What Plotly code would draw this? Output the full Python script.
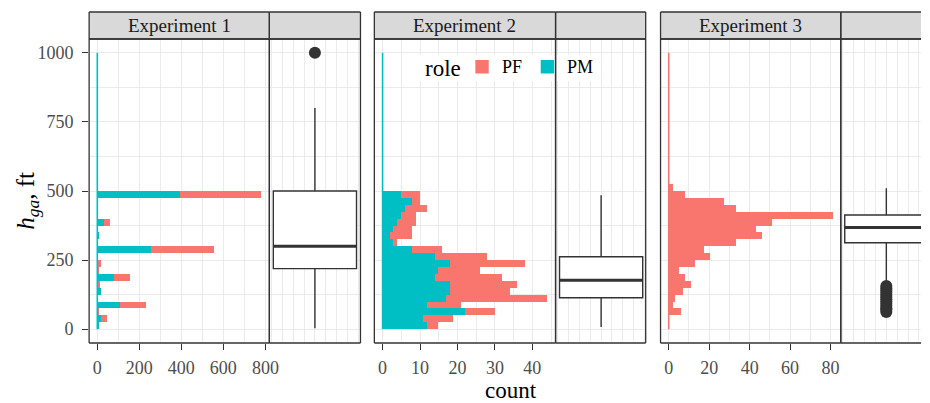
import plotly.graph_objects as go

W, H = 930, 403
def px(x): return x / W
def py(y): return 1 - y / H

PF_COLOR = "#F8766D"
PM_COLOR = "#00BFC4"
DARK = "#333333"
GRID = "#EBEBEB"
FONT = "'Liberation Serif', 'Times New Roman', 'DejaVu Serif', serif"

experiments = ["Experiment 1", "Experiment 2", "Experiment 3"]
roles = ["PF", "PM"]

# histogram bins (ft), width 25
bin_width = 25
bin_centers = [12.5, 37.5, 62.5, 87.5, 112.5, 137.5, 162.5, 187.5, 212.5, 237.5,
               262.5, 287.5, 312.5, 337.5, 362.5, 387.5, 412.5, 437.5, 462.5, 487.5, 512.5]

# counts per bin (bottom -> top)
exp1_pm = [8, 16, 2, 107, 0, 16, 5, 78, 1, 5, 0, 257, 0, 8, 0, 31, 0, 0, 0, 394, 0]
exp1_pf = [0, 29, 8, 127, 0, 0, 7, 76, 5, 12, 0, 301, 0, 0, 0, 29, 0, 0, 0, 386, 0]
exp2_pm = [12, 11, 22, 12, 17, 18, 18, 14, 15, 18, 14, 8, 3, 2, 3, 4, 5, 6, 8, 5, 0]
exp2_pf = [3, 8, 8, 9, 27, 16, 18, 18, 11, 20, 14, 8, 1, 6, 5, 5, 4, 6, 2, 5, 0]
exp3_pm = [0, 0, 0, 0, 0, 0, 0, 0, 0, 0, 0, 0, 0, 0, 0, 0, 0, 0, 0, 0, 0]
exp3_pf = [0, 0, 6, 2, 3, 7, 11, 8, 5, 13, 20, 17, 33, 46, 43, 51, 81, 33, 27, 8, 2]

hist_pm = [exp1_pm, exp2_pm, exp3_pm]
hist_pf = [exp1_pf, exp2_pf, exp3_pf]

# data range of h_ga (ft)
h_min, h_max = 0, 1000

# boxplot statistics
box_q1 = [219, 114, 313]
box_median = [300, 177, 368]
box_q3 = [500, 262, 413]
box_lower = [3, 8, 165]
box_upper = [800, 485, 510]
exp1_outliers = [1000]
exp2_outliers = []
exp3_outliers = [156, 148, 140, 132, 124, 116, 108, 100, 92, 84, 76, 70, 62]
outliers = [exp1_outliers, exp2_outliers, exp3_outliers]

# x tick labels
hist_ticks = [[0, 200, 400, 600, 800], [0, 10, 20, 30, 40], [0, 20, 40, 60, 80]]
hist_minor = [100, 5, 10]

# ---- layout geometry (pixels) ----
panel_top, panel_bot = 39, 343
strip_top = 12
hist_px = [(90, 272), (378, 561), (667, 849)]
box_px = [(272, 364), (561, 652), (849, 941)]
box_half = 4.2
box_unit_px = 92 / (2 * box_half)
box_w = 84 / box_unit_px

fig = go.Figure()
layout = {}
shapes = []
border_shapes = []
annotations = []

ydom = [py(panel_bot), py(panel_top)]
yrange = [-50, 1050]


def frame(l, r, t, b, lw=1.3):
    """Border lines of a box, clipped at the figure's right edge."""
    rr = min(r, W)
    out = [
        dict(type="line", xref="paper", yref="paper", x0=px(l), x1=px(rr), y0=py(t), y1=py(t)),
        dict(type="line", xref="paper", yref="paper", x0=px(l), x1=px(rr), y0=py(b), y1=py(b)),
        dict(type="line", xref="paper", yref="paper", x0=px(l), x1=px(l), y0=py(t), y1=py(b)),
    ]
    if r <= W:
        out.append(dict(type="line", xref="paper", yref="paper", x0=px(r), x1=px(r),
                        y0=py(t), y1=py(b)))
    for s in out:
        s["line"] = dict(color=DARK, width=lw)
        s["layer"] = "above"
    return out


for i in range(3):
    hx = 2 * i + 1
    bx = 2 * i + 2
    hname = "x" if hx == 1 else f"x{hx}"
    bname = f"x{bx}"
    hy = "y" if hx == 1 else f"y{hx}"
    by = f"y{bx}"

    hl, hr = hist_px[i]
    bl, br = box_px[i]
    bdom_r = min(br, W)
    brange = [-box_half, -box_half + (bdom_r - bl) / box_unit_px]

    # zero-count edge line
    zero_color = PM_COLOR if max(hist_pm[i]) > 0 else PF_COLOR
    fig.add_trace(go.Scatter(x=[0, 0], y=[h_min, h_max], mode="lines",
                             line=dict(color=zero_color, width=1.6),
                             xaxis=hname, yaxis=hy, showlegend=False, hoverinfo="skip"))
    fig.add_trace(go.Bar(y=bin_centers, x=hist_pm[i], orientation="h", width=bin_width,
                         marker=dict(color=PM_COLOR, line=dict(width=0)), name="PM",
                         xaxis=hname, yaxis=hy, showlegend=False))
    fig.add_trace(go.Bar(y=bin_centers, x=hist_pf[i], orientation="h", width=bin_width,
                         marker=dict(color=PF_COLOR, line=dict(width=0)), name="PF",
                         xaxis=hname, yaxis=hy, showlegend=False))

    xl = -box_w / 2
    xr = min(box_w / 2, brange[1])
    if xr >= box_w / 2:
        fig.add_trace(go.Box(x=[0], q1=[box_q1[i]], median=[box_median[i]], q3=[box_q3[i]],
                             lowerfence=[box_lower[i]], upperfence=[box_upper[i]],
                             width=box_w, fillcolor="white", whiskerwidth=0,
                             line=dict(color=DARK, width=1.4), boxpoints=False,
                             xaxis=bname, yaxis=by, showlegend=False))
    else:
        # box cut by the right edge of the picture: draw its visible part
        fig.add_trace(go.Scatter(x=[0, 0, None, 0, 0],
                                 y=[box_q3[i], box_upper[i], None, box_q1[i], box_lower[i]],
                                 mode="lines", line=dict(color=DARK, width=1.4),
                                 xaxis=bname, yaxis=by, showlegend=False, hoverinfo="skip"))
        fig.add_trace(go.Scatter(x=[xr, xl, xl, xr],
                                 y=[box_q3[i], box_q3[i], box_q1[i], box_q1[i]],
                                 mode="lines", fill="toself", fillcolor="white",
                                 line=dict(color=DARK, width=1.4),
                                 xaxis=bname, yaxis=by, showlegend=False, hoverinfo="skip"))
    fig.add_trace(go.Scatter(x=[xl, xr], y=[box_median[i], box_median[i]],
                             mode="lines", line=dict(color=DARK, width=2.8),
                             xaxis=bname, yaxis=by, showlegend=False, hoverinfo="skip"))
    if outliers[i]:
        fig.add_trace(go.Scatter(x=[0] * len(outliers[i]), y=outliers[i], mode="markers",
                                 marker=dict(color=DARK, size=12, line=dict(width=0)),
                                 xaxis=bname, yaxis=by, showlegend=False))

    tot_max = max(a + b for a, b in zip(hist_pm[i], hist_pf[i]))
    layout["xaxis" if hx == 1 else f"xaxis{hx}"] = dict(
        domain=[px(hl), px(hr)], anchor=hy, range=[-0.05 * tot_max, 1.05 * tot_max],
        tickvals=hist_ticks[i], ticks="outside", ticklen=6, tickwidth=1.2, tickcolor=DARK,
        tickfont=dict(family=FONT, size=18, color="#4D4D4D"),
        showgrid=True, gridcolor=GRID, gridwidth=1.1, zeroline=False, showline=False,
        minor=dict(dtick=hist_minor[i], showgrid=True, gridcolor=GRID, gridwidth=0.6),
        ticklabelstandoff=2,
    )
    layout[f"xaxis{bx}"] = dict(
        domain=[px(bl), px(bdom_r)], anchor=by, range=brange,
        dtick=1, tick0=0, showticklabels=False, ticks="",
        showgrid=True, gridcolor=GRID, gridwidth=0.9, zeroline=False, showline=False,
    )
    for yname, xa in ((hy, hname), (by, bname)):
        key = "yaxis" if yname == "y" else f"yaxis{yname[1:]}"
        d = dict(domain=ydom, anchor=xa, range=yrange,
                 tickvals=[0, 250, 500, 750, 1000],
                 showgrid=True, gridcolor=GRID, gridwidth=1.1, zeroline=False, showline=False,
                 minor=dict(dtick=125, tick0=0, showgrid=True, gridcolor=GRID, gridwidth=0.6))
        if yname == "y":
            d.update(ticks="outside", ticklen=6, tickwidth=1.2, tickcolor=DARK,
                     tickfont=dict(family=FONT, size=18, color="#4D4D4D"),
                     ticklabelstandoff=5)
        else:
            d.update(showticklabels=False, ticks="", matches="y")
        layout[key] = d

    # strips (fill) and frames
    for (l, r) in (hist_px[i], box_px[i]):
        shapes.append(dict(type="rect", xref="paper", yref="paper",
                           x0=px(l), x1=px(min(r, W)), y0=py(panel_top), y1=py(strip_top),
                           fillcolor="#D9D9D9", line=dict(width=0), layer="above"))
        border_shapes += frame(l, r, strip_top, panel_top)
        border_shapes += frame(l, r, panel_top, panel_bot)
    annotations.append(dict(text=experiments[i], xref="paper", yref="paper",
                            x=px((hl + hr) / 2), y=py(25.5), showarrow=False,
                            xanchor="center", yanchor="middle",
                            font=dict(family=FONT, size=19, color="#1A1A1A")))

# legend background
shapes.append(dict(type="rect", xref="paper", yref="paper",
                   x0=px(422), x1=px(603), y0=py(81), y1=py(55),
                   fillcolor="white", line=dict(width=0), layer="above"))
shapes += border_shapes

# manual legend
annotations.append(dict(text="role", xref="paper", yref="paper", x=px(427), y=py(68),
                        showarrow=False, xanchor="left", yanchor="middle",
                        font=dict(family=FONT, size=23, color="black")))
for role, color, kx, tx in (("PF", PF_COLOR, 480, 505), ("PM", PM_COLOR, 546, 571)):
    shapes.append(dict(type="rect", xref="paper", yref="paper",
                       x0=px(kx), x1=px(kx + 13.5), y0=py(73.5), y1=py(60),
                       fillcolor=color, line=dict(width=0), layer="above"))
    annotations.append(dict(text=role, xref="paper", yref="paper", x=px(tx), y=py(67),
                            showarrow=False, xanchor="left", yanchor="middle",
                            font=dict(family=FONT, size=18, color="black")))

# axis titles
annotations.append(dict(text="count", xref="paper", yref="paper", x=px(515.5), y=py(390),
                        showarrow=False, xanchor="center", yanchor="middle",
                        font=dict(family=FONT, size=23, color="black")))
annotations.append(dict(text="<i>h</i><sub><i>ga</i></sub>, ft", xref="paper", yref="paper",
                        x=px(28), y=py(201), textangle=-90, showarrow=False,
                        xanchor="center", yanchor="middle",
                        font=dict(family=FONT, size=25, color="black")))

fig.update_layout(
    width=W, height=H, autosize=False,
    margin=dict(l=0, r=0, t=0, b=0),
    paper_bgcolor="white", plot_bgcolor="white",
    barmode="stack", bargap=0,
    showlegend=False,
    shapes=shapes, annotations=annotations,
    font=dict(family=FONT),
    **layout,
)

fig.write_html("out.html")
